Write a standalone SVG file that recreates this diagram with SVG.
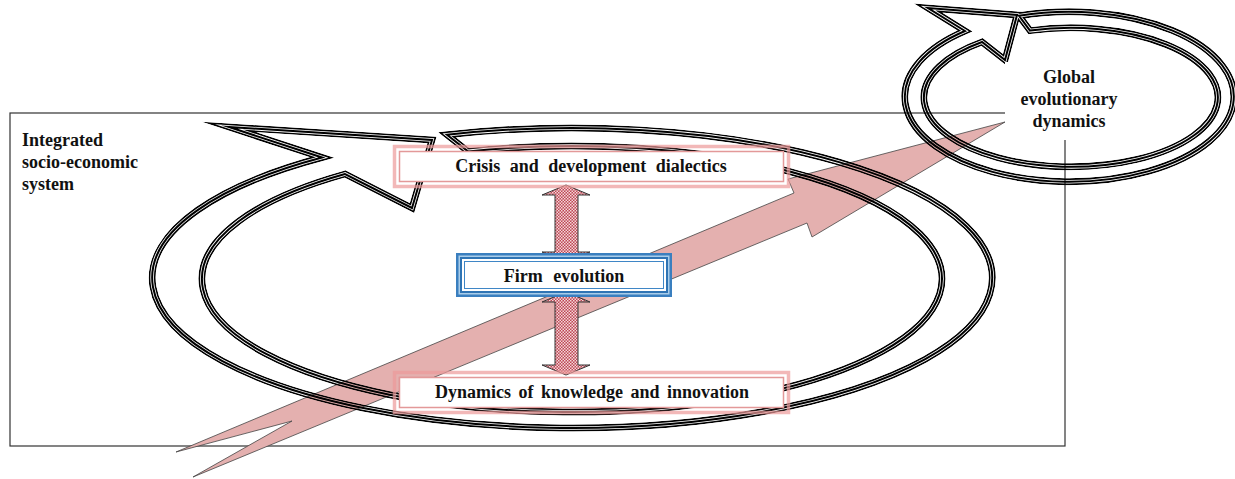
<svg xmlns="http://www.w3.org/2000/svg" xmlns:xlink="http://www.w3.org/1999/xlink" width="1235" height="479" viewBox="0 0 1235 479">
<style>
.lbl{font-family:"Liberation Serif","Times New Roman",serif;font-weight:bold;font-size:18px;fill:#111}
.mid{text-anchor:middle}
.tl{fill:none;stroke:#000;stroke-width:7;stroke-miterlimit:10}
.tlc{fill:none;stroke:#000;stroke-width:2;stroke-miterlimit:10}
.dbl{fill:url(#hatch);stroke:#333;stroke-width:1}
.pb1{fill:none;stroke:#ec9a9a;stroke-opacity:0.7;stroke-width:3.5}
.pb2{fill:none;stroke:#dc8080;stroke-opacity:0.8;stroke-width:1.5}
</style>
<defs>
<pattern id="hatch" width="3" height="3" patternUnits="userSpaceOnUse">
<rect width="3" height="3" fill="#bd4855"/>
<rect width="1.5" height="1.5" fill="#f5d6d9"/>
<rect x="1.5" y="1.5" width="1.5" height="1.5" fill="#f5d6d9"/>
</pattern>
<path id="bandMain" d="M 447 134.8 A 420 150 0 1 1 322 157.5 L 229 127 L 432 140 L 412 208 L 345 174 A 370 133 0 1 0 468 151.4 Z"/>
<path id="bandGlobal" d="M 1019 15.8 A 164.5 85 0 1 1 965 31 L 928 8 L 1017 15 L 1005 60 L 982 42 A 147 69.5 0 1 0 1030 30.6 Z"/>
<mask id="mMain" maskUnits="userSpaceOnUse" x="0" y="0" width="1235" height="479">
<use xlink:href="#bandMain" fill="none" stroke="#fff" stroke-width="7" stroke-miterlimit="10"/>
<use xlink:href="#bandMain" fill="none" stroke="#000" stroke-width="3.6" stroke-miterlimit="10"/>
</mask>
<mask id="mGlobal" maskUnits="userSpaceOnUse" x="0" y="0" width="1235" height="479">
<use xlink:href="#bandGlobal" fill="none" stroke="#fff" stroke-width="7" stroke-miterlimit="10"/>
<use xlink:href="#bandGlobal" fill="none" stroke="#000" stroke-width="3.6" stroke-miterlimit="10"/>
</mask>
</defs>
<rect width="1235" height="479" fill="#fff"/>

<g id="system-frame">
<rect x="10" y="113" width="1055" height="333" fill="none" stroke="#333" stroke-width="1.2"/>
</g>

<g id="growth-arrow">
<polygon points="176,452 794,193 788,179 1005,122 812,237 807,223 193,477 292,421" fill="#e4b0af" stroke="#444" stroke-width="0.8"/>
</g>

<g id="cycle-arrow">
<use xlink:href="#bandMain" class="tl" mask="url(#mMain)"/>
<use xlink:href="#bandMain" class="tlc"/>
</g>

<g id="global-cycle">
<use xlink:href="#bandGlobal" class="tl" mask="url(#mGlobal)"/>
<use xlink:href="#bandGlobal" class="tlc"/>
</g>

<g id="connectors">
<polygon class="dbl" points="566,185 590,195 578,195 578,252 590,252 566,262 542,252 555,252 555,195 542,195"/>
<polygon class="dbl" points="566,292 590,302 578,302 578,365 590,365 566,375 542,365 555,365 555,302 542,302"/>
</g>

<g id="node-system">
<text class="lbl" x="22" y="146">Integrated</text>
<text class="lbl" x="22" y="168">socio-economic</text>
<text class="lbl" x="22" y="190">system</text>
</g>

<g id="node-global">
<rect x="1005" y="62" width="128" height="78" fill="#fff"/>
<text class="lbl mid" x="1069" y="83">Global</text>
<text class="lbl mid" x="1069" y="105">evolutionary</text>
<text class="lbl mid" x="1069" y="127">dynamics</text>
</g>

<g id="node-crisis">
<rect x="399" y="151" width="385" height="31" fill="#fff"/>
<rect class="pb1" x="394.5" y="146.5" width="394" height="40"/>
<rect class="pb2" x="399.5" y="151.5" width="384" height="30"/>
<text class="lbl mid" x="591" y="172" word-spacing="5">Crisis and development dialectics</text>
</g>

<g id="node-firm">
<rect x="456" y="253" width="216" height="44" fill="#3a7fbf"/>
<rect x="458.5" y="255.5" width="211" height="39" fill="#a9cdea"/>
<rect x="460" y="257" width="208" height="36" fill="#2f74b4"/>
<rect x="462" y="259" width="204" height="32" fill="#fff"/>
<rect x="464.5" y="261.5" width="199" height="27" fill="none" stroke="#3f86c6" stroke-width="1"/>
<text class="lbl mid" x="564" y="282" word-spacing="6">Firm evolution</text>
</g>

<g id="node-knowledge">
<rect x="399" y="377" width="385" height="31" fill="#fff"/>
<rect class="pb1" x="394.5" y="372.5" width="394" height="40"/>
<rect class="pb2" x="399.5" y="377.5" width="384" height="30"/>
<text class="lbl mid" x="592" y="398" word-spacing="3">Dynamics of knowledge and innovation</text>
</g>
</svg>
